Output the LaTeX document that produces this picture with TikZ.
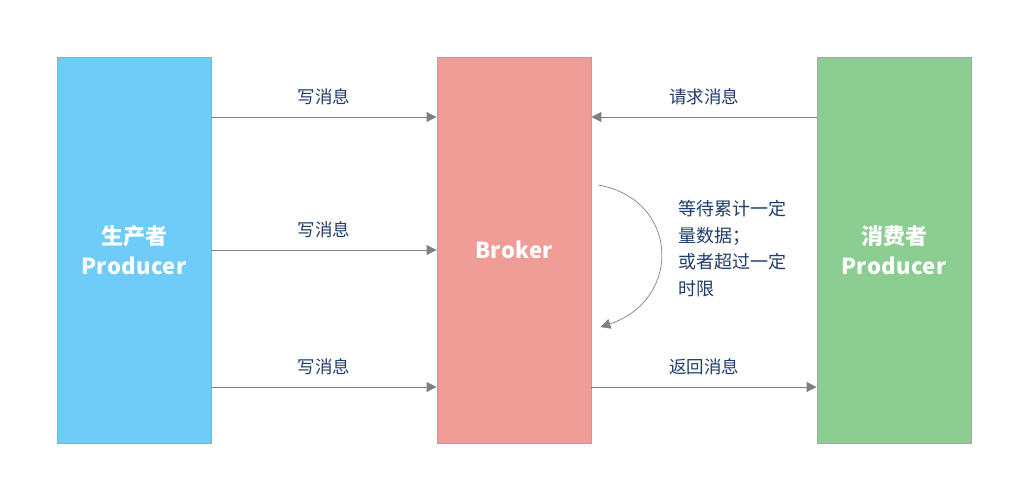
\documentclass[tikz,border=0pt]{standalone}
\usepackage{fontspec}
\setmainfont{Noto Sans CJK SC}
\newfontfamily\spacedfont[LetterSpace=2]{Noto Sans CJK SC}
\usetikzlibrary{arrows.meta,positioning}

\definecolor{prodblue}{HTML}{6FCBF8}
\definecolor{brokerred}{HTML}{F09C97}
\definecolor{consgreen}{HTML}{8CCE91}
\definecolor{edgegray}{HTML}{A6A6A6}
\definecolor{linegray}{HTML}{808080}
\definecolor{labnavy}{HTML}{1F3D6B}

\begin{document}
\begin{tikzpicture}[
  x=1pt,y=-1pt,
  font=\fontsize{17.5}{20}\selectfont,
  box/.style={draw=edgegray,line width=0.9pt,minimum width=154pt,minimum height=386pt,
    inner sep=0pt,align=center,text=white,font=\fontsize{22}{30}\selectfont\bfseries},
  ar/.style={-{Triangle[length=10pt,width=10pt]},draw=linegray,line width=0.9pt},
  lab/.style={text=labnavy,inner sep=1pt}]

 \useasboundingbox (0,0) rectangle (1024,496);

 % ---- boxes ----
 \node[box,fill=prodblue] (prod) at (134,250) {生产者\\{\spacedfont Producer}};
 \node[box,fill=brokerred] (broker) at (514,250) {{\spacedfont Broker}};
 \node[box,fill=consgreen] (cons) at (894,250) {消费者\\{\spacedfont Producer}};

 % ---- producer -> broker ----
 \draw[ar] ([yshift=133pt]prod.east) -- node[lab,above=11pt] {写消息} ([yshift=133pt]broker.west);
 \draw[ar] (prod.east) -- node[lab,above=11pt] {写消息} (broker.west);
 \draw[ar] ([yshift=-137pt]prod.east) -- node[lab,above=11pt] {写消息} ([yshift=-137pt]broker.west);

 % ---- broker <-> consumer ----
 \draw[ar] ([yshift=133pt]cons.west) -- node[lab,above=11pt] {请求消息} ([yshift=133pt]broker.east);
 \draw[ar] ([yshift=-137pt]broker.east) -- node[lab,above=11pt] {返回消息} ([yshift=-137pt]cons.west);

 % ---- waiting loop ----
 \draw[ar,line width=0.7pt] ([xshift=7pt,yshift=65pt]broker.east)
   .. controls (680,200) and (682,300) .. ([xshift=9pt,yshift=-77pt]broker.east);
 \node[lab,align=left,anchor=north west,font=\fontsize{18}{26.7}\selectfont] (wait) at (677,199)
   {等待累计一定\\量数据；\\或者超过一定\\时限};
\end{tikzpicture}
\end{document}
